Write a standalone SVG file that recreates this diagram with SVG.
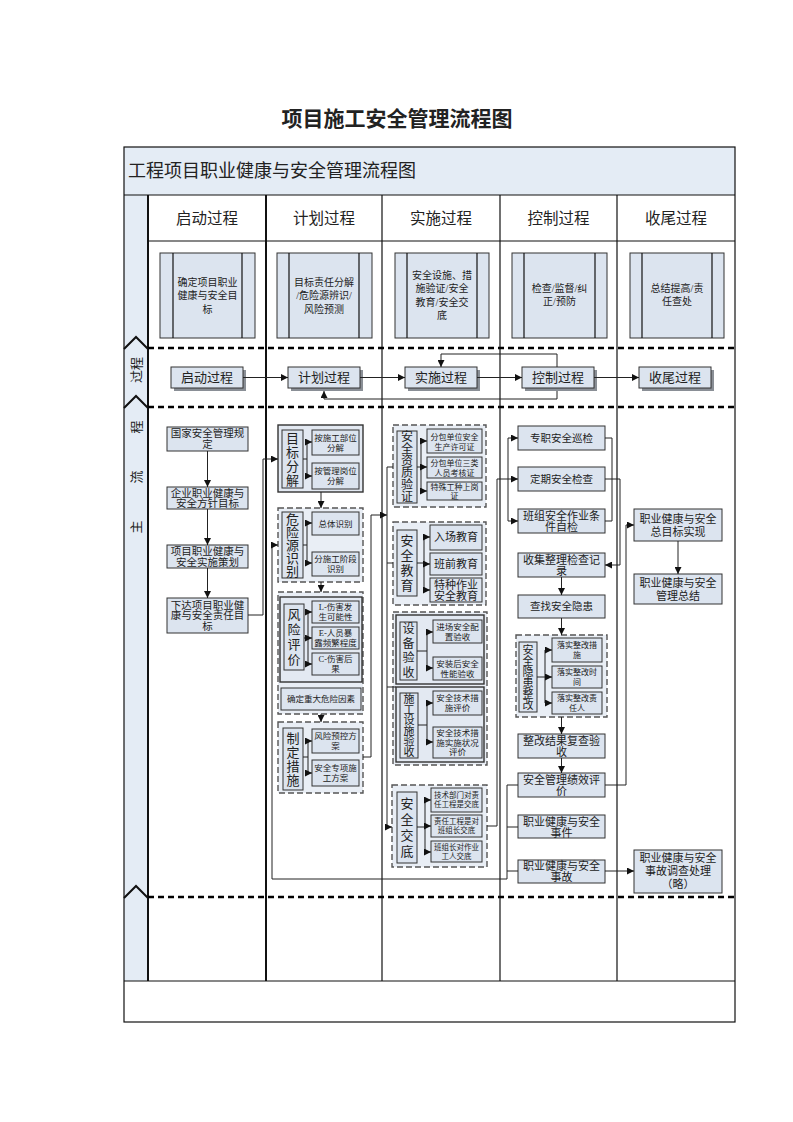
<svg xmlns="http://www.w3.org/2000/svg" width="793" height="1122" viewBox="0 0 793 1122">
<defs>
<marker id="ah" viewBox="0 0 10 10" refX="10" refY="5" markerWidth="7" markerHeight="7" orient="auto" markerUnits="userSpaceOnUse"><path d="M0,0 L10,5 L0,10 z" fill="#111"/></marker>
<style>
.f{font-family:"Liberation Serif","Noto Sans CJK SC",serif;fill:#222;text-anchor:middle}
.b{fill:#dce4ef;stroke:#333;stroke-width:1}
.g{fill:#e3e9f2;stroke:#333;stroke-width:1.4}
.d{fill:#e9eef5;stroke:#555;stroke-width:1.4;stroke-dasharray:6 3}
.sh{fill:#8a8f96}
.c{fill:none;stroke:#222;stroke-width:1}
.a{marker-end:url(#ah)}
.ln{stroke:#111;stroke-width:1.2}
.lane{stroke:#000;stroke-width:2.6;stroke-dasharray:6 4}
.s75{font-size:7.5px}.s8{font-size:8px}.s85{font-size:8.5px}.s10{font-size:10px}.s105{font-size:10.5px}.s11{font-size:11px}.s12{font-size:12px}.s13{font-size:13px}.s15{font-size:15.5px}
</style>
</defs>
<rect width="793" height="1122" fill="#fff"/>
<text class="f" x="397" y="126" style="font-size:21px;font-weight:bold">项目施工安全管理流程图</text>

<g id="frame">
<rect x="124" y="147" width="611" height="48" fill="#e4ecf5"/>
<rect x="124" y="195" width="24" height="786" fill="#e4ecf5"/>
<text class="f" x="128" y="177" style="font-size:18px;text-anchor:start">工程项目职业健康与安全管理流程图</text>
<line class="ln" x1="124" y1="195" x2="735" y2="195"/>
<line class="ln" x1="148" y1="241" x2="735" y2="241"/>
<line x1="148" y1="195" x2="148" y2="981" stroke="#111" stroke-width="2"/>
<line x1="266" y1="195" x2="266" y2="981" stroke="#111" stroke-width="2"/>
<line class="ln" x1="382" y1="195" x2="382" y2="981"/>
<line class="ln" x1="500" y1="195" x2="500" y2="981"/>
<line class="ln" x1="617" y1="195" x2="617" y2="981"/>
<line class="ln" x1="124" y1="981" x2="735" y2="981"/>
<rect x="124" y="147" width="611" height="875" fill="none" stroke="#111" stroke-width="1.2"/>
<line class="lane" x1="148" y1="348" x2="735" y2="348"/>
<line class="lane" x1="148" y1="407" x2="735" y2="407"/>
<line class="lane" x1="148" y1="897" x2="735" y2="897"/>
<polyline points="124,349 136,337 148,349" fill="none" stroke="#111" stroke-width="2"/>
<polyline points="124,408 136,396 148,408" fill="none" stroke="#111" stroke-width="2"/>
<polyline points="124,898 136,886 148,898" fill="none" stroke="#111" stroke-width="2"/>
<text class="f s13" transform="translate(136,370) rotate(-90)" dy="4.5">过程</text>
<text class="f s13" transform="translate(136,527) rotate(-90)" dy="4.5">主</text>
<text class="f s13" transform="translate(136,477) rotate(-90)" dy="4.5">流</text>
<text class="f s13" transform="translate(136,427) rotate(-90)" dy="4.5">程</text>
<text class="f s15" x="207" y="224">启动过程</text>
<text class="f s15" x="324" y="224">计划过程</text>
<text class="f s15" x="441" y="224">实施过程</text>
<text class="f s15" x="558.5" y="224">控制过程</text>
<text class="f s15" x="676" y="224">收尾过程</text>
</g>

<g id="phase1"><rect class="b" x="160" y="253" width="95" height="85"/><line class="ln" x1="173" y1="253" x2="173" y2="338"/><line class="ln" x1="242" y1="253" x2="242" y2="338"/>
<text class="f s10" x="207.5" y="285.5">确定项目职业<tspan x="207.5" dy="13.5">健康与安全目</tspan><tspan x="207.5" dy="13.5">标</tspan></text></g>
<g id="phase2"><rect class="b" x="277" y="253" width="95" height="85"/><line class="ln" x1="289" y1="253" x2="289" y2="338"/><line class="ln" x1="359" y1="253" x2="359" y2="338"/>
<text class="f s10" x="324" y="285.5">目标责任分解<tspan x="324" dy="13.5">/危险源辨识/</tspan><tspan x="324" dy="13.5">风险预测</tspan></text></g>
<g id="phase3"><rect class="b" x="395" y="253" width="94" height="85"/><line class="ln" x1="407" y1="253" x2="407" y2="338"/><line class="ln" x1="477" y1="253" x2="477" y2="338"/>
<text class="f s10" x="442" y="278.5">安全设施、措<tspan x="442" dy="13.5">施验证/安全</tspan><tspan x="442" dy="13.5">教育/安全交</tspan><tspan x="442" dy="13.5">底</tspan></text></g>
<g id="phase4"><rect class="b" x="512" y="253" width="95" height="85"/><line class="ln" x1="524" y1="253" x2="524" y2="338"/><line class="ln" x1="595" y1="253" x2="595" y2="338"/>
<text class="f s10" x="559.5" y="291.5">检查/监督/纠<tspan x="559.5" dy="13.5">正/预防</tspan></text></g>
<g id="phase5"><rect class="b" x="630" y="253" width="94" height="85"/><line class="ln" x1="642" y1="253" x2="642" y2="338"/><line class="ln" x1="712" y1="253" x2="712" y2="338"/>
<text class="f s10" x="677" y="291.5">总结提高/责<tspan x="677" dy="13.5">任查处</tspan></text></g>

<g id="p_start"><rect class="sh" x="174" y="370" width="72" height="21"/><rect class="b" x="171" y="367" width="72" height="21"/><text class="f s13" x="207" y="382">启动过程</text></g>
<g id="p_plan"><rect class="sh" x="291" y="370" width="72" height="21"/><rect class="b" x="288" y="367" width="72" height="21"/><text class="f s13" x="324" y="382">计划过程</text></g>
<g id="p_impl"><rect class="sh" x="408" y="370" width="72" height="21"/><rect class="b" x="405" y="367" width="72" height="21"/><text class="f s13" x="441" y="382">实施过程</text></g>
<g id="p_ctrl"><rect class="sh" x="525" y="370" width="72" height="21"/><rect class="b" x="522" y="367" width="72" height="21"/><text class="f s13" x="558" y="382">控制过程</text></g>
<g id="p_close"><rect class="sh" x="642" y="370" width="72" height="21"/><rect class="b" x="639" y="367" width="72" height="21"/><text class="f s13" x="675" y="382">收尾过程</text></g>

<g id="c1a"><rect class="b" x="167" y="427" width="81" height="24"/><text class="f s105" x="207.5" y="436.7">国家安全管理规<tspan x="207.5" dy="11">定</tspan></text></g>
<g id="c1b"><rect class="b" x="167" y="487" width="81" height="22"/><text class="f s105" x="207.5" y="496.7">企业职业健康与<tspan x="207.5" dy="10.5">安全方针目标</tspan></text></g>
<g id="c1c"><rect class="b" x="167" y="545" width="81" height="23"/><text class="f s105" x="207.5" y="554.7">项目职业健康与<tspan x="207.5" dy="11">安全实施策划</tspan></text></g>
<g id="c1d"><rect class="b" x="167" y="598" width="81" height="35"/><text class="f s105" x="207.5" y="608.7">下达项目职业健<tspan x="207.5" dy="10.5">康与安全责任目</tspan><tspan x="207.5" dy="10.5">标</tspan></text></g>

<g id="g_mbfj"><rect class="g" x="278" y="425" width="85" height="67"/>
<rect class="b" x="282" y="430" width="21" height="58"/>
<text class="f s13" x="292.5" y="442.5">目<tspan x="292.5" dy="14">标</tspan><tspan x="292.5" dy="14">分</tspan><tspan x="292.5" dy="14">解</tspan></text>
<rect class="b" x="312" y="430" width="47" height="25"/><text class="f s85" x="335.5" y="440.5">按施工部位<tspan x="335.5" dy="10">分解</tspan></text>
<rect class="b" x="312" y="463" width="47" height="26"/><text class="f s85" x="335.5" y="474">按管理岗位<tspan x="335.5" dy="10">分解</tspan></text>
<path class="c" d="M303,459 H307 M307,442 V476"/><path class="c a" d="M307,442 H312"/><path class="c a" d="M307,476 H312"/></g>

<g id="g_wxy"><rect class="d" x="278" y="508" width="85" height="74"/>
<rect class="b" x="282" y="512" width="21" height="66"/>
<text class="f s13" x="292.5" y="523.5">危<tspan x="292.5" dy="13">险</tspan><tspan x="292.5" dy="13">源</tspan><tspan x="292.5" dy="13">识</tspan><tspan x="292.5" dy="13">别</tspan></text>
<rect class="b" x="312" y="512" width="47" height="23"/><text class="f s85" x="335.5" y="526.5">总体识别</text>
<rect class="b" x="312" y="552" width="47" height="24"/><text class="f s85" x="335.5" y="562">分施工阶段<tspan x="335.5" dy="10">识别</tspan></text>
<path class="c" d="M303,545 H307 M307,523 V563"/><path class="c a" d="M307,523 H312"/><path class="c a" d="M307,563 H312"/></g>

<g id="g_fxpj"><rect class="d" x="278" y="592" width="85" height="122"/>
<rect class="g" x="280" y="597" width="82" height="85"/>
<rect class="b" x="284" y="604" width="20" height="66"/>
<text class="f s13" x="294" y="619">风<tspan x="294" dy="15">险</tspan><tspan x="294" dy="15">评</tspan><tspan x="294" dy="15">价</tspan></text>
<rect class="b" x="312" y="601" width="47" height="22"/><text class="f s85" x="335.5" y="610">L-伤害发<tspan x="335.5" dy="10">生可能性</tspan></text>
<rect class="b" x="312" y="627" width="47" height="22"/><text class="f s85" x="335.5" y="636">E-人员暴<tspan x="335.5" dy="10">露频繁程度</tspan></text>
<rect class="b" x="312" y="653" width="47" height="22"/><text class="f s85" x="335.5" y="662">C-伤害后<tspan x="335.5" dy="10">果</tspan></text>
<path class="c" d="M304,638 H308 M308,612 V664"/><path class="c a" d="M308,612 H312"/><path class="c a" d="M308,638 H312"/><path class="c a" d="M308,664 H312"/>
<rect class="b" x="281" y="688" width="80" height="22"/><text class="f s85" x="321" y="702">确定重大危险因素</text></g>

<g id="g_zdcs"><rect class="d" x="278" y="722" width="85" height="71"/>
<rect class="b" x="283" y="728" width="20" height="62"/>
<text class="f s13" x="293" y="742.5">制<tspan x="293" dy="14">定</tspan><tspan x="293" dy="14">措</tspan><tspan x="293" dy="14">施</tspan></text>
<rect class="b" x="312" y="729" width="47" height="24"/><text class="f s85" x="335.5" y="739">风险预控方<tspan x="335.5" dy="10">案</tspan></text>
<rect class="b" x="312" y="760" width="47" height="26"/><text class="f s85" x="335.5" y="771">安全专项施<tspan x="335.5" dy="10">工方案</tspan></text>
<path class="c" d="M303,757 H308 M308,741 V773"/><path class="c a" d="M308,741 H312"/><path class="c a" d="M308,773 H312"/></g>

<g id="g_zzyz"><rect class="d" x="393" y="425" width="93" height="82"/>
<rect class="b" x="397" y="431" width="20" height="72"/>
<text class="f s12" x="407" y="441.2">安<tspan x="407" dy="12">全</tspan><tspan x="407" dy="12">资</tspan><tspan x="407" dy="12">质</tspan><tspan x="407" dy="12">验</tspan><tspan x="407" dy="12">证</tspan></text>
<rect class="b" x="427" y="429" width="55" height="24"/><text class="f s8" x="454.5" y="440">分包单位安全<tspan x="454.5" dy="9.5">生产许可证</tspan></text>
<rect class="b" x="427" y="457" width="55" height="21"/><text class="f s8" x="454.5" y="466">分包单位三类<tspan x="454.5" dy="9.5">人员考核证</tspan></text>
<rect class="b" x="427" y="482" width="55" height="18"/><text class="f s8" x="454.5" y="490">特殊工种上岗<tspan x="454.5" dy="9">证</tspan></text>
<path class="c" d="M417,467 H421 M421,441 V491"/><path class="c a" d="M421,441 H427"/><path class="c a" d="M421,467 H427"/><path class="c a" d="M421,491 H427"/></g>

<g id="g_aqjy"><rect class="d" x="393" y="522" width="93" height="83"/>
<rect class="b" x="397" y="530" width="20" height="66"/>
<text class="f s13" x="407" y="545">安<tspan x="407" dy="15">全</tspan><tspan x="407" dy="15">教</tspan><tspan x="407" dy="15">育</tspan></text>
<rect class="b" x="430" y="525" width="52" height="25"/><text class="f s11" x="456" y="541.4">入场教育</text>
<rect class="b" x="430" y="553" width="52" height="22"/><text class="f s11" x="456" y="567.9">班前教育</text>
<rect class="b" x="430" y="578" width="52" height="24"/><text class="f s11" x="456" y="588.9">特种作业<tspan x="456" dy="11">安全教育</tspan></text>
<path class="c" d="M417,563 H424 M424,537 V590"/><path class="c a" d="M424,537 H430"/><path class="c a" d="M424,564 H430"/><path class="c a" d="M424,590 H430"/></g>

<g id="g_ysg"><rect class="d" x="393" y="612" width="94" height="153"/>
<rect class="g" x="396" y="615" width="88" height="69"/>
<rect class="b" x="400" y="622" width="17" height="58"/>
<text class="f s12" x="408.5" y="633.2">设<tspan x="408.5" dy="14.5">备</tspan><tspan x="408.5" dy="14.5">验</tspan><tspan x="408.5" dy="14.5">收</tspan></text>
<rect class="b" x="433" y="620" width="49" height="23"/><text class="f s85" x="457.5" y="630">进场安全配<tspan x="457.5" dy="10">置验收</tspan></text>
<rect class="b" x="433" y="657" width="49" height="23"/><text class="f s85" x="457.5" y="667">安装后安全<tspan x="457.5" dy="10">性能验收</tspan></text>
<path class="c" d="M417,651 H427 M427,632 V668"/><path class="c a" d="M427,632 H433"/><path class="c a" d="M427,668 H433"/>
<rect class="g" x="396" y="687" width="88" height="75"/>
<rect class="b" x="400" y="693" width="18" height="65"/>
<text class="f s11" x="409" y="703.2">施<tspan x="409" dy="10.5">工</tspan><tspan x="409" dy="10.5">设</tspan><tspan x="409" dy="10.5">施</tspan><tspan x="409" dy="10.5">验</tspan><tspan x="409" dy="10.5">收</tspan></text>
<rect class="b" x="433" y="691" width="49" height="24"/><text class="f s85" x="457.5" y="701">安全技术措<tspan x="457.5" dy="10">施评价</tspan></text>
<rect class="b" x="433" y="727" width="49" height="31"/><text class="f s85" x="457.5" y="736">安全技术措<tspan x="457.5" dy="9.5">施实施状况</tspan><tspan x="457.5" dy="9.5">评价</tspan></text>
<path class="c" d="M418,725 H427 M427,703 V742"/><path class="c a" d="M427,703 H433"/><path class="c a" d="M427,742 H433"/></g>

<g id="g_aqjd"><rect class="d" x="392" y="785" width="95" height="82"/>
<rect class="b" x="397" y="792" width="20" height="71"/>
<text class="f s13" x="407" y="808">安<tspan x="407" dy="16">全</tspan><tspan x="407" dy="16">交</tspan><tspan x="407" dy="16">底</tspan></text>
<rect class="b" x="431" y="788" width="51" height="24"/><text class="f s75" x="456.5" y="798">技术部门对责<tspan x="456.5" dy="9">任工程是交底</tspan></text>
<rect class="b" x="431" y="815" width="51" height="22"/><text class="f s75" x="456.5" y="824">责任工程是对<tspan x="456.5" dy="9">班组长交底</tspan></text>
<rect class="b" x="431" y="841" width="51" height="21"/><text class="f s75" x="456.5" y="849.5">班组长对作业<tspan x="456.5" dy="9">工人交底</tspan></text>
<path class="c" d="M417,827 H425 M425,800 V852"/><path class="c a" d="M425,800 H431"/><path class="c a" d="M425,826 H431"/><path class="c a" d="M425,852 H431"/></g>

<g id="c4a"><rect class="b" x="518" y="426" width="87" height="24"/><text class="f s105" x="561.5" y="441.7">专职安全巡检</text></g>
<g id="c4b"><rect class="b" x="518" y="467" width="87" height="24"/><text class="f s105" x="561.5" y="482.7">定期安全检查</text></g>
<g id="c4c"><rect class="b" x="518" y="509" width="87" height="24"/><text class="f s11" x="561.5" y="519.9">班组安全作业条<tspan x="561.5" dy="11">件自检</tspan></text></g>
<g id="c4d"><rect class="b" x="518" y="553" width="87" height="24"/><text class="f s11" x="561.5" y="563.9">收集整理检查记<tspan x="561.5" dy="11">录</tspan></text></g>
<g id="c4e"><rect class="b" x="518" y="595" width="87" height="23"/><text class="f s105" x="561.5" y="610.2">查找安全隐患</text></g>
<g id="g_yhzg"><rect class="d" x="516" y="635" width="91" height="82"/>
<rect class="b" x="519" y="642" width="18" height="70"/>
<text class="f s11" x="528" y="653.5">安<tspan x="528" dy="11">全</tspan><tspan x="528" dy="11">隐</tspan><tspan x="528" dy="11">患</tspan><tspan x="528" dy="11">整</tspan><tspan x="528" dy="11">改</tspan></text>
<rect class="b" x="552" y="638" width="50" height="24"/><text class="f s8" x="577" y="648">落实整改措<tspan x="577" dy="10">施</tspan></text>
<rect class="b" x="552" y="666" width="50" height="22"/><text class="f s8" x="577" y="675">落实整改时<tspan x="577" dy="10">间</tspan></text>
<rect class="b" x="552" y="692" width="50" height="22"/><text class="f s8" x="577" y="701">落实整改责<tspan x="577" dy="10">任人</tspan></text>
<path class="c" d="M537,677 H545 M545,650 V703"/><path class="c a" d="M545,650 H552"/><path class="c a" d="M545,677 H552"/><path class="c a" d="M545,703 H552"/></g>
<g id="c4f"><rect class="b" x="518" y="734" width="87" height="24"/><text class="f s11" x="561.5" y="744.9">整改结果复查验<tspan x="561.5" dy="11">收</tspan></text></g>
<g id="c4g"><rect class="b" x="518" y="773" width="87" height="24"/><text class="f s11" x="561.5" y="783.9">安全管理绩效评<tspan x="561.5" dy="11">价</tspan></text></g>
<g id="c4h"><rect class="b" x="518" y="815" width="87" height="23"/><text class="f s11" x="561.5" y="825.9">职业健康与安全<tspan x="561.5" dy="11">事件</tspan></text></g>
<g id="c4i"><rect class="b" x="518" y="860" width="87" height="23"/><text class="f s11" x="561.5" y="870.4">职业健康与安全<tspan x="561.5" dy="11">事故</tspan></text></g>

<g id="c5a"><rect class="b" x="634" y="509" width="88" height="32"/><text class="f s11" x="678" y="522.9">职业健康与安全<tspan x="678" dy="13">总目标实现</tspan></text></g>
<g id="c5b"><rect class="b" x="634" y="574" width="88" height="30"/><text class="f s11" x="678" y="586.9">职业健康与安全<tspan x="678" dy="13">管理总结</tspan></text></g>
<g id="c5c"><rect class="b" x="634" y="850" width="88" height="43"/><text class="f s11" x="678" y="861.9">职业健康与安全<tspan x="678" dy="13">事故调查处理</tspan><tspan x="678" dy="13">（略）</tspan></text></g>

<g id="connectors">
<path class="c a" d="M243,377.5 H288"/>
<path class="c a" d="M360,377.5 H405"/>
<path class="c a" d="M477,377.5 H522"/>
<path class="c a" d="M594,377.5 H639"/>
<path class="c a" d="M557,367 V354 H441 V367"/>
<path class="c a" d="M557,391 V399 H324 V391"/>
<path class="c a" d="M207.5,451 V487"/>
<path class="c a" d="M207.5,509 V545"/>
<path class="c a" d="M207.5,568 V598"/>
<path class="c a" d="M248,615 H263 V459 H278"/>
<path class="c a" d="M321,492 V508"/>
<path class="c a" d="M321,582 V592"/>
<path class="c a" d="M321,714 V722"/>
<path class="c a" d="M363,757 H371 V515 H387"/>
<path class="c" d="M387,467 V827 M387,467 H393 M387,563 H393 M387,687 H396"/>
<path class="c a" d="M387,827 H392"/>
<path class="c a" d="M487,826 H497 V479 H518"/>
<path class="c" d="M508,438 V521"/>
<path class="c a" d="M508,438 H518"/>
<path class="c a" d="M508,521 H518"/>
<path class="c a" d="M561.5,577 V595"/>
<path class="c a" d="M561.5,618 V635"/>
<path class="c a" d="M561.5,717 V734"/>
<path class="c a" d="M561.5,758 V773"/>
<path class="c" d="M605,438 H612 V521 H605"/>
<path class="c a" d="M605,479 H620 V565 H605"/>
<path class="c a" d="M605,785 H626 V525 H634"/>
<path class="c a" d="M605,871 H634"/>
<path class="c a" d="M518,785 H507 V879 H272 V545 H278"/>
<path class="c" d="M518,827 H507 M518,871 H507"/>
<path class="c a" d="M678,541 V574"/>
</g>
</svg>
